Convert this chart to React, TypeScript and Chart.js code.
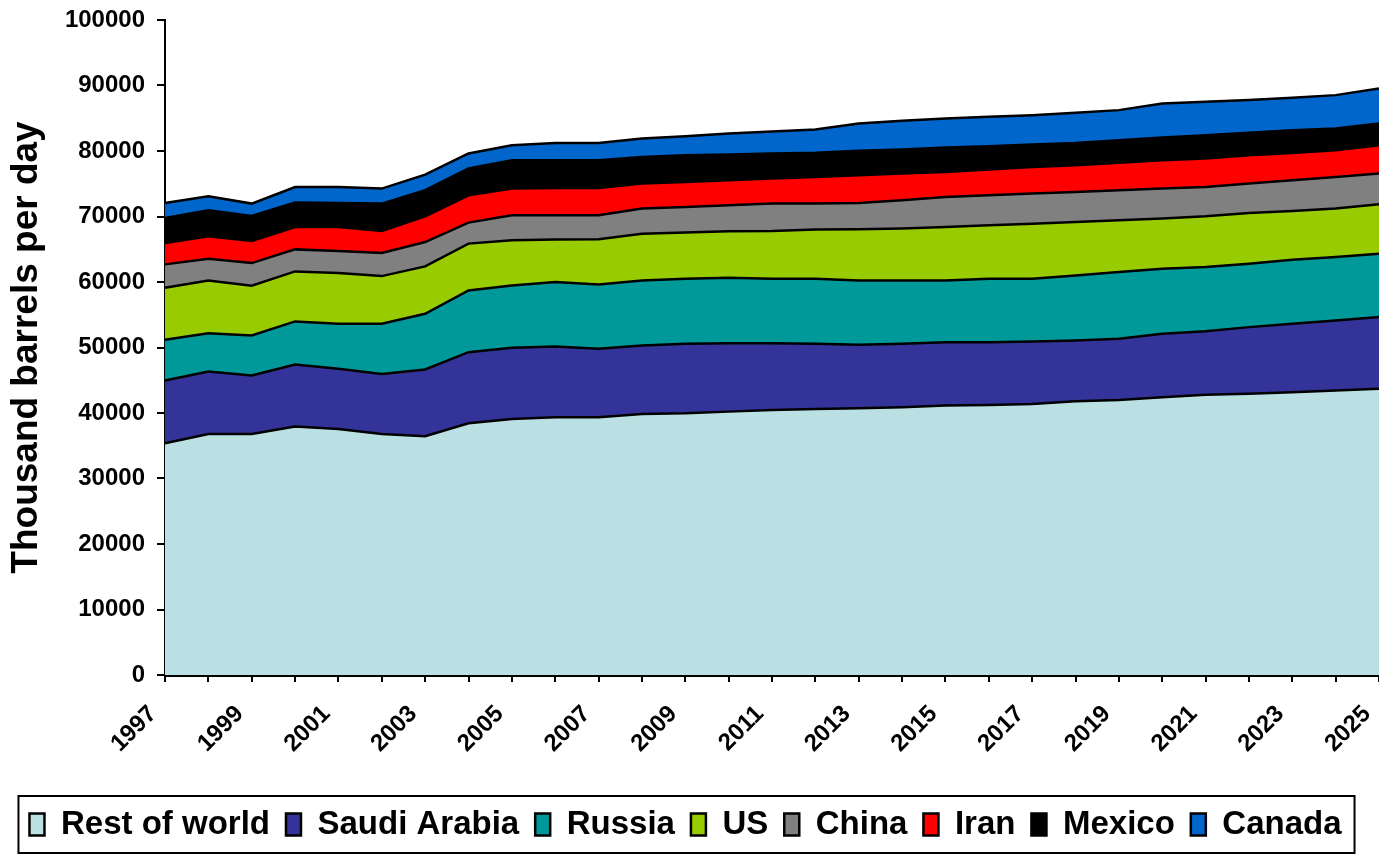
import React, { useEffect, useRef } from "react";
import { Chart, registerables } from "chart.js";

Chart.register(...registerables);

const years = [
  "1997", "1998", "1999", "2000", "2001", "2002", "2003", "2004", "2005", "2006",
  "2007", "2008", "2009", "2010", "2011", "2012", "2013", "2014", "2015", "2016",
  "2017", "2018", "2019", "2020", "2021", "2022", "2023", "2024", "2025",
];

const restOfWorld = [35370, 36800, 36800, 37920, 37570, 36800, 36440, 38430, 39100, 39340, 39340, 39860, 39960, 40210, 40470, 40620, 40720, 40870, 41130, 41230, 41390, 41790, 42000, 42400, 42770, 42920, 43170, 43430, 43690];
const saudiArabia = [9580, 9530, 8920, 9480, 9170, 9170, 10200, 10860, 10850, 10810, 10460, 10450, 10600, 10450, 10190, 9940, 9690, 9690, 9680, 9580, 9530, 9280, 9330, 9690, 9720, 10190, 10450, 10700, 10950];
const russia = [6230, 5860, 6110, 6580, 6880, 7650, 8510, 9430, 9530, 9840, 9830, 9930, 9940, 10000, 9840, 9940, 9830, 9680, 9430, 9690, 9580, 9940, 10190, 9940, 9790, 9690, 9790, 9680, 9690];
const us = [7950, 8050, 7600, 7640, 7740, 7280, 7240, 7140, 6880, 6480, 6880, 7140, 7040, 7080, 7290, 7500, 7800, 7910, 8160, 8150, 8410, 8150, 7900, 7650, 7750, 7740, 7430, 7400, 7540];
const china = [3560, 3320, 3460, 3360, 3370, 3520, 3710, 3210, 3820, 3710, 3670, 3830, 3920, 3970, 4180, 3970, 4030, 4330, 4580, 4590, 4590, 4590, 4590, 4580, 4480, 4490, 4690, 4830, 4690];
const iran = [3260, 3410, 3370, 3420, 3670, 3370, 3930, 4170, 4080, 4180, 4180, 3820, 3820, 3820, 3820, 4070, 4230, 4080, 3820, 3930, 4070, 4080, 4180, 4330, 4340, 4330, 4180, 4080, 4330];
const mexico = [3820, 3980, 3820, 3720, 3670, 4180, 3980, 4080, 4330, 4230, 4230, 4070, 4080, 3930, 3830, 3680, 3720, 3670, 3730, 3560, 3420, 3410, 3460, 3470, 3570, 3410, 3470, 3320, 3310];
const canada = [2290, 2140, 1890, 2390, 2440, 2290, 2390, 2300, 2300, 2650, 2650, 2810, 2900, 3210, 3360, 3560, 4180, 4370, 4440, 4490, 4480, 4590, 4590, 5200, 5090, 5000, 4940, 5090, 5350];

const seriesNames = ["Rest of world", "Saudi Arabia", "Russia", "US", "China", "Iran", "Mexico", "Canada"];
const seriesColors = ["#BBE0E3", "#333399", "#009999", "#99CC00", "#808080", "#FF0000", "#000000", "#0066CC"];
const seriesValues = [restOfWorld, saudiArabia, russia, us, china, iran, mexico, canada];

const yTitle = "Thousand barrels per day";
const FONT = "'Liberation Sans', Arial, Helvetica, sans-serif";

const LEGEND_SHIFT = -4;

const legendBorder = {
  id: "legendBorder",
  afterUpdate(chart: any) {
    const lg = chart.legend;
    if (!lg) return;
    lg.left += LEGEND_SHIFT;
    lg.right += LEGEND_SHIFT;
    if (lg.legendHitBoxes) {
      lg.legendHitBoxes.forEach((h: any) => {
        h.left += LEGEND_SHIFT;
      });
    }
  },
  afterDraw(chart: any) {
    const lg = chart.legend;
    if (!lg || !lg.legendHitBoxes || !lg.legendHitBoxes.length) return;
    const hb = lg.legendHitBoxes;
    const left = Math.min(...hb.map((h: any) => h.left)) - 11;
    const right = Math.max(...hb.map((h: any) => h.left + h.width)) + 13;
    const top = Math.min(...hb.map((h: any) => h.top)) - 12;
    const bottom = Math.max(...hb.map((h: any) => h.top + h.height)) + 12;
    const ctx = chart.ctx;
    ctx.save();
    ctx.strokeStyle = "#000";
    ctx.lineWidth = 2;
    ctx.strokeRect(left, top, right - left, bottom - top);
    ctx.restore();
  },
};

export default function App() {
  const canvasRef = useRef<HTMLCanvasElement | null>(null);

  useEffect(() => {
    if (!canvasRef.current) return;
    Chart.defaults.font.family = FONT;
    const datasets = seriesNames.map((name, i) => ({
      label: name,
      data: seriesValues[i],
      backgroundColor: seriesColors[i],
      borderColor: "#000000",
      borderWidth: 2.5,
      pointRadius: 0,
      pointHoverRadius: 0,
      tension: 0,
      fill: i === 0 ? "origin" : "-1",
    }));
    const chart = new Chart(canvasRef.current, {
      type: "line",
      data: { labels: years, datasets },
      options: {
        animation: false,
        responsive: false,
        devicePixelRatio: 1,
        layout: { padding: { top: 20, bottom: 4, left: 0, right: 0 } },
        plugins: {
          tooltip: { enabled: false },
          legend: {
            position: "bottom",
            labels: {
              boxWidth: 15,
              boxHeight: 22,
              padding: 16,
              color: "#000",
              font: { size: 33, weight: "bold", family: FONT },
            },
          },
        },
        scales: {
          x: {
            stacked: true,
            offset: false,
            afterFit: (scale: any) => {
              scale.height = 117;
              scale.paddingLeft = 0;
              scale.paddingRight = 0;
            },
            grid: {
              display: true,
              drawOnChartArea: false,
              drawTicks: true,
              tickLength: 7,
              color: "#000",
              lineWidth: 2,
            },
            border: { display: true, color: "#000", width: 3 },
            ticks: {
              autoSkip: false,
              maxRotation: 45,
              minRotation: 45,
              padding: 18,
              labelOffset: -12,
              color: "#000",
              font: { size: 24, weight: "bold", family: FONT },
              callback: (_v: any, i: number) => (i % 2 === 0 ? years[i] : ""),
            },
          },
          y: {
            stacked: true,
            min: 0,
            max: 100000,
            afterFit: (scale: any) => {
              scale.width = 165;
              scale.paddingTop = 0;
              scale.paddingBottom = 0;
            },
            grid: {
              display: true,
              drawOnChartArea: false,
              drawTicks: true,
              tickLength: 8,
              color: "#000",
              lineWidth: 2,
            },
            border: { display: true, color: "#000", width: 2 },
            ticks: {
              stepSize: 10000,
              padding: 12,
              color: "#000",
              font: { size: 24, weight: "bold", family: FONT },
              callback: (v: any) => String(v),
            },
            title: {
              display: true,
              text: yTitle,
              color: "#000",
              padding: { top: 5, bottom: 0 },
              font: { size: 37, weight: "bold", family: FONT },
            },
          },
        },
      },
      plugins: [legendBorder],
    });
    return () => chart.destroy();
  }, []);

  return (
    <div style={{ position: "fixed", left: 0, top: 0, width: 1379, height: 855, background: "#fff" }}>
      <canvas ref={canvasRef} width={1379} height={855} style={{ width: 1379, height: 855 }} />
    </div>
  );
}
